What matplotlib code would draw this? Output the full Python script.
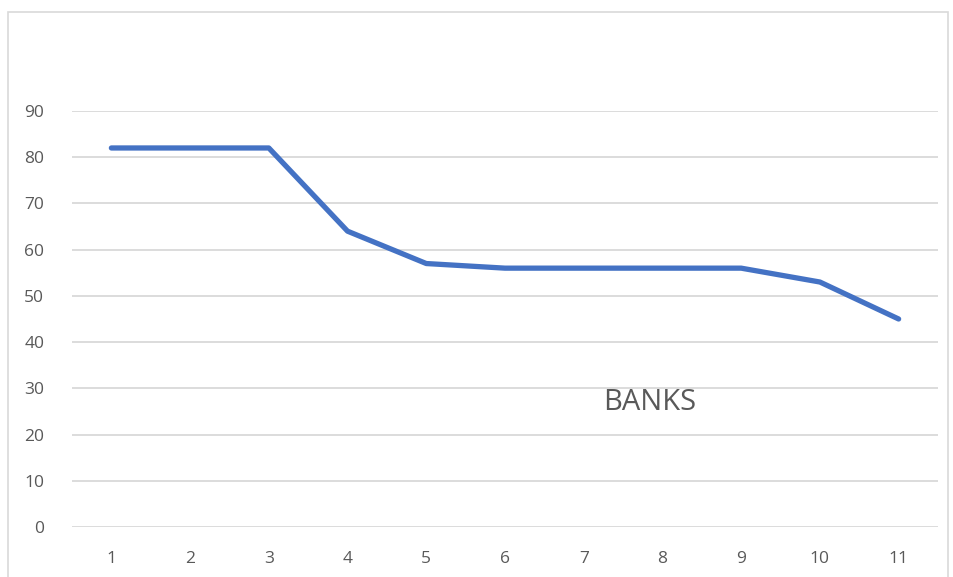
import matplotlib
matplotlib.use("Agg")
import matplotlib.pyplot as plt
from matplotlib.patches import Rectangle

# chart data
categories = [str(i) for i in range(1, 12)]
values = [82, 82, 82, 64, 57, 56, 56, 56, 56, 53, 45]
y_ticks = [0, 10, 20, 30, 40, 50, 60, 70, 80, 90]
label_text = "BANKS"

plt.rcParams['font.family'] = ['Open Sans', 'DejaVu Sans']

fig = plt.figure(figsize=(9.54, 5.77), dpi=100)

# outer chart border (Excel style)
fig.patches.append(Rectangle((8 / 954, -0.05), (948 - 8) / 954, 1 - 12 / 577 + 0.05,
                             transform=fig.transFigure, fill=False,
                             edgecolor='#D9D9D9', linewidth=1.2))

ax = fig.add_axes([72 / 954, 1 - 527 / 577, (938 - 72) / 954, (527 - 111) / 577])

x = list(range(1, len(categories) + 1))
ax.plot(x, values, color='#4472C4', linewidth=3.8, solid_capstyle='round',
        solid_joinstyle='round', zorder=3)

ax.set_xlim(0.5, len(categories) + 0.5)
ax.set_ylim(0, 90)
ax.set_yticks(y_ticks)
ax.set_xticks(x)
ax.set_xticklabels(categories)
ax.grid(axis='y', color='#D9D9D9', linewidth=1.3)
ax.set_axisbelow(True)
for s in ax.spines.values():
    s.set_visible(False)
ax.tick_params(length=0, labelsize=12.5, colors='#595959', pad=0)
ax.tick_params(axis='x', pad=17)
ax.tick_params(axis='y', pad=20)
for lbl in ax.get_yticklabels():
    lbl.set_horizontalalignment('right')

fig.text(650 / 954, 1 - 403 / 577, label_text, fontsize=21, color='#595959',
         ha='center', va='center')

fig.savefig('out.png', dpi=100)
